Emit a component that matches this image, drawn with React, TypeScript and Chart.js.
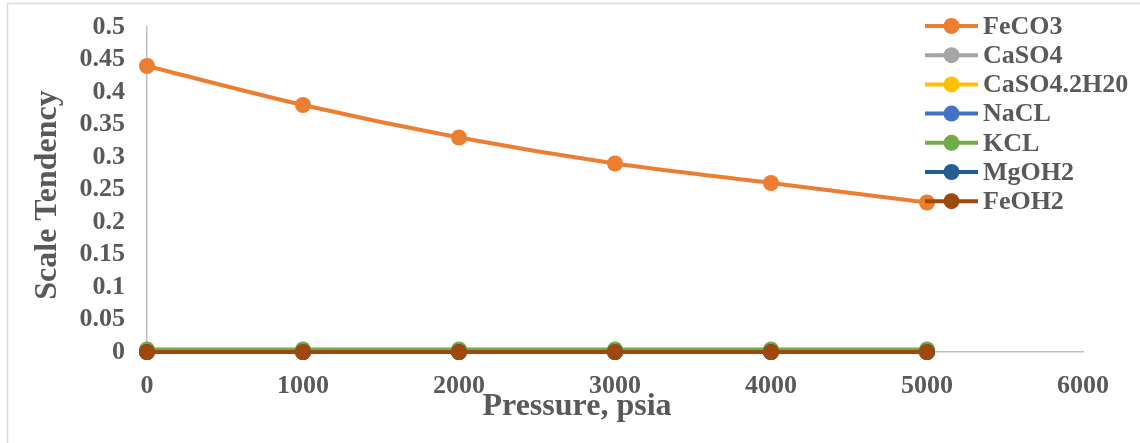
import React, { useEffect, useRef } from "react";
import { Chart, registerables } from "chart.js";

Chart.register(...registerables);

const pressures = [0, 1000, 2000, 3000, 4000, 5000];
const seriesNames = ["FeCO3", "CaSO4", "CaSO4.2H20", "NaCL", "KCL", "MgOH2", "FeOH2"];
const seriesColors = ["#ED7D31", "#A5A5A5", "#FFC000", "#4472C4", "#70AD47", "#255E91", "#9E480E"];
const feco3 = [0.44, 0.38, 0.33, 0.29, 0.26, 0.23];
const caso4 = [0, 0, 0, 0, 0, 0];
const caso42h2o = [0, 0, 0, 0, 0, 0];
const nacl = [0, 0, 0, 0, 0, 0];
const kcl = [0.004, 0.004, 0.004, 0.004, 0.004, 0.004];
const mgoh2 = [0, 0, 0, 0, 0, 0];
const feoh2 = [0, 0, 0, 0, 0, 0];
const seriesValues = [feco3, caso4, caso42h2o, nacl, kcl, mgoh2, feoh2];
const xTitle = "Pressure, psia";
const yTitle = "Scale Tendency";

const FONT = "'Liberation Serif', 'Times New Roman', serif";
const TEXT = "#595959";

const decorPlugin = {
  id: "decor",
  afterDraw(chart: any) {
    const ctx = chart.ctx;
    ctx.save();
    // outer border
    ctx.strokeStyle = "#D9D9D9";
    ctx.lineWidth = 1.5;
    ctx.strokeRect(7.5, 3.5, 3000, 3000);
    // axis titles
    ctx.fillStyle = TEXT;
    ctx.font = `bold 32px ${FONT}`;
    ctx.textAlign = "center";
    ctx.textBaseline = "middle";
    ctx.fillText(xTitle, 577, 407);
    ctx.save();
    ctx.translate(48, 195);
    ctx.rotate(-Math.PI / 2);
    ctx.fillText(yTitle, 0, 0);
    ctx.restore();
    // legend
    const lx0 = 925, lx1 = 978, top = 26, step = 29.2;
    ctx.font = `bold 26px ${FONT}`;
    ctx.textAlign = "left";
    seriesNames.forEach((name, i) => {
      const y = top + i * step;
      ctx.strokeStyle = seriesColors[i];
      ctx.lineWidth = 4;
      ctx.beginPath();
      ctx.moveTo(lx0, y);
      ctx.lineTo(lx1, y);
      ctx.stroke();
      ctx.fillStyle = seriesColors[i];
      ctx.beginPath();
      ctx.arc((lx0 + lx1) / 2, y, 8, 0, Math.PI * 2);
      ctx.fill();
      ctx.fillStyle = TEXT;
      ctx.fillText(name, 983, y + 1);
    });
    ctx.restore();
  },
};

export default function App() {
  const ref = useRef<HTMLCanvasElement>(null);
  useEffect(() => {
    if (!ref.current) return;
    const chart = new Chart(ref.current, {
      type: "line",
      data: {
        datasets: seriesNames.map((name, i) => ({
          label: name,
          data: pressures.map((p, j) => ({ x: p, y: seriesValues[i][j] })),
          borderColor: seriesColors[i],
          backgroundColor: seriesColors[i],
          borderWidth: 4,
          pointRadius: 8,
          pointHoverRadius: 8,
          pointBorderWidth: 0,
          tension: i === 0 ? 0.3 : 0,
          clip: false as any,
          order: 6 - i,
        })),
      },
      options: {
        responsive: false,
        animation: false,
        layout: { padding: { left: 0, top: 27, right: 57, bottom: 0 } },
        plugins: { legend: { display: false }, tooltip: { enabled: false } },
        scales: {
          x: {
            type: "linear",
            min: 0,
            max: 6000,
            grid: { display: false, drawTicks: false },
            border: { display: true, color: "#BFBFBF", width: 1.5 },
            ticks: {
              stepSize: 1000,
              padding: 19,
              color: TEXT,
              font: { family: FONT, size: 26, weight: "bold" },
              maxRotation: 0,
              autoSkip: false,
              callback: (v: any) => String(v),
            },
            afterFit: (s: any) => { s.height = 91; s.paddingLeft = 0; s.paddingRight = 0; },
          },
          y: {
            type: "linear",
            min: 0,
            max: 0.5,
            grid: { display: false, drawTicks: false },
            border: { display: true, color: "#BFBFBF", width: 1.5 },
            ticks: {
              stepSize: 0.05,
              padding: 22,
              color: TEXT,
              autoSkip: false,
              font: { family: FONT, size: 26, weight: "bold" },
              callback: (v: any) => String(parseFloat(Number(v).toFixed(2))),
            },
            afterFit: (s: any) => { s.width = 147; s.paddingTop = 0; s.paddingBottom = 0; },
          },
        },
      },
      plugins: [decorPlugin],
    });
    return () => chart.destroy();
  }, []);
  return (
    <div style={{ position: "absolute", left: 0, top: 0, width: 1140, height: 443, background: "#fff" }}>
      <canvas ref={ref} width={1140} height={443} style={{ display: "block" }} />
    </div>
  );
}
